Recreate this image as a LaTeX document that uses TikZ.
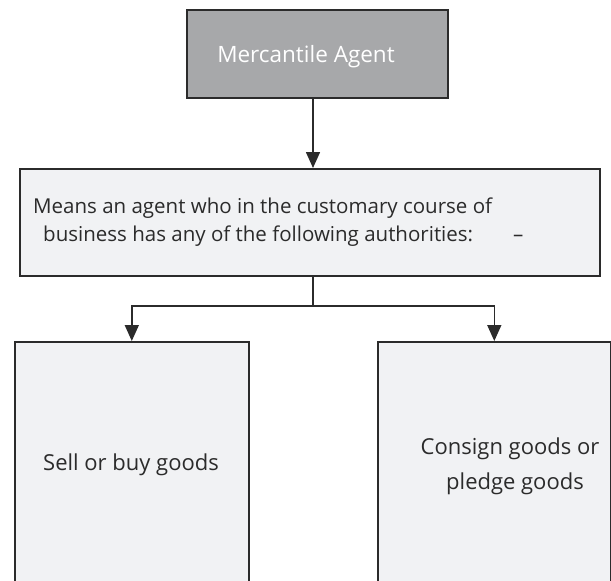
\documentclass[tikz,border=0pt]{standalone}
\usepackage{fontspec}
\setmainfont{Open Sans}
\usetikzlibrary{arrows.meta}
\definecolor{boxline}{HTML}{2B2B2B}
\definecolor{boxfill}{HTML}{F1F2F4}
\definecolor{headfill}{HTML}{A7A8AA}
\begin{document}
\begin{tikzpicture}[x=1pt,y=-1pt,
  box/.style={draw=boxline, line width=1.6pt, fill=boxfill, inner sep=0pt, anchor=north west},
  label/.style={text=boxline, align=center, inner sep=0pt},
  conn/.style={line width=1.6pt, draw=boxline, -{Triangle[width=14pt,length=16pt]}}]
\clip (0,0) rectangle (611,581);
% boxes
\node[box, fill=headfill, minimum width=261pt, minimum height=88pt] (head) at (186,9) {};
\node[box, minimum width=580pt, minimum height=107pt] (mid) at (19,168) {};
\node[box, minimum width=234pt, minimum height=260pt] (left) at (14,341) {};
\node[box, minimum width=233pt, minimum height=260pt] (right) at (377,341) {};
% texts
\node[label, text=white, font=\fontsize{22.5}{28}\selectfont] (headtext) at (306,57) {Mercantile Agent};
\node[label, align=left, anchor=west, font=\fontsize{20.5}{28}\selectfont] (midtext) at (33,222)
  {Means an agent who in the customary course of\\
   \hspace{10pt}business has any of the following authorities:\hspace{40pt}--};
\node[label, font=\fontsize{22}{35}\selectfont] (lefttext) at (131,465) {Sell or buy goods};
\node[label, font=\fontsize{22}{35}\selectfont] (righttext) at (510,466) {Consign goods or\\\hspace{10pt}pledge goods};
% connectors
\coordinate (split) at (313,306);
\draw[conn] (head.south -| split) -- (mid.north -| split);
\draw[line width=1.6pt, draw=boxline] (mid.south -| split) -- (split);
\draw[conn] (split) -| (left.north);
\draw[conn] (split) -| (right.north);
\end{tikzpicture}
\end{document}
